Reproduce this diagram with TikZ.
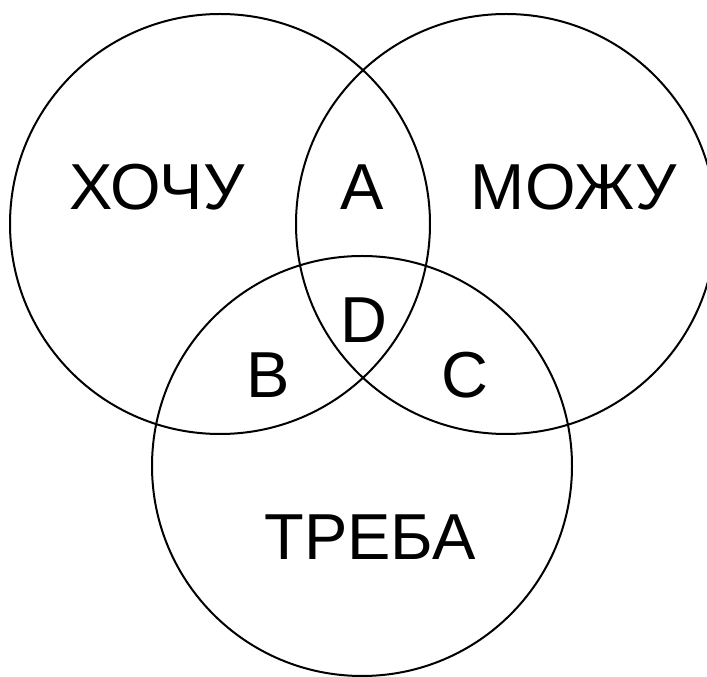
\documentclass[tikz,border=0pt]{standalone}
\usepackage{fontspec}
\setmainfont{Liberation Sans}
\begin{document}
\begin{tikzpicture}[x=1pt,y=1pt,
  ring/.style={draw=black,line width=2pt,circle,minimum size=420pt,inner sep=0pt},
  lbl/.style={inner sep=0pt,font=\fontsize{65}{65}\selectfont}]
\useasboundingbox (0,0) rectangle (707,677);
\begin{scope}
\clip (0,0) rectangle (707,677);
\node[ring] (want) at (220,453) {};
\node[ring] (can) at (506,453) {};
\node[ring] (need) at (362,211) {};
\end{scope}
\node[lbl] (t1) at (157,490) {ХОЧУ};
\node[lbl] (t2) at (574,490) {МОЖУ};
\node[lbl] (t3) at (370,140) {ТРЕБА};
\node[lbl] (a) at (362,490) {A};
\node[lbl] (d) at (364,357) {D};
\node[lbl] (b) at (268,302) {B};
\node[lbl] (c) at (465,302) {C};
\end{tikzpicture}
\end{document}
